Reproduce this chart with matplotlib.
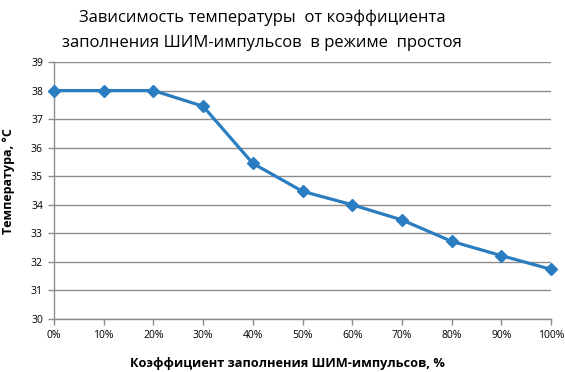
import matplotlib
matplotlib.use("Agg")
import matplotlib.pyplot as plt
from matplotlib.ticker import FixedLocator

fill_pct = [0, 10, 20, 30, 40, 50, 60, 70, 80, 90, 100]
temperature = [38.0, 38.0, 38.0, 37.45, 35.45, 34.47, 34.0, 33.47, 32.72, 32.22, 31.74]
x_labels = ["0%", "10%", "20%", "30%", "40%", "50%", "60%", "70%", "80%", "90%", "100%"]
y_ticks = [30, 31, 32, 33, 34, 35, 36, 37, 38, 39]

title_lines = ["Зависимость температуры  от коэффициента",
               "заполнения ШИМ-импульсов  в режиме  простоя"]
xlabel = "Коэффициент заполнения ШИМ-импульсов, %"
ylabel = "Температура, °C"

plt.rcParams['font.family'] = ['Open Sans', 'DejaVu Sans']

W, H = 565, 372
fig = plt.figure(figsize=(W/100, H/100), dpi=100)
ax = fig.add_axes([54/W, 1-319/H, (551-54)/W, (319-62)/H])

ax.plot(fill_pct, temperature, color="#2A7DC0", lw=2.3, marker="D", ms=6,
        markerfacecolor="#2A7DC0", markeredgecolor="#2A7DC0", zorder=3, clip_on=False)

ax.set_xlim(0, 100)
ax.set_ylim(30, 39)
ax.xaxis.set_major_locator(FixedLocator(fill_pct))
ax.set_xticklabels(x_labels, fontsize=7.5)
ax.set_yticks(y_ticks)
ax.set_yticklabels([str(v) for v in y_ticks], fontsize=7.5)

ax.grid(axis="y", color="#8C8C8C", lw=1)
ax.set_axisbelow(True)
for s in ["top", "right"]:
    ax.spines[s].set_visible(False)
for s in ["left", "bottom"]:
    ax.spines[s].set_color("#8C8C8C")
    ax.spines[s].set_linewidth(1)
ax.tick_params(axis="both", direction="out", length=4, color="#8C8C8C", width=1, pad=4)

fig.text(287/W, 1-367/H, xlabel, ha="center", va="baseline", fontsize=9.2, fontweight="bold")
fig.text(2/W, 1-181/H, ylabel, ha="left", va="center", rotation=90, fontsize=9, fontweight="bold")

fig.text(262/W, 1-22/H, title_lines[0], ha="center", va="baseline", fontsize=12)
fig.text(262/W, 1-47/H, title_lines[1], ha="center", va="baseline", fontsize=12)

fig.savefig("out.png", dpi=100)
